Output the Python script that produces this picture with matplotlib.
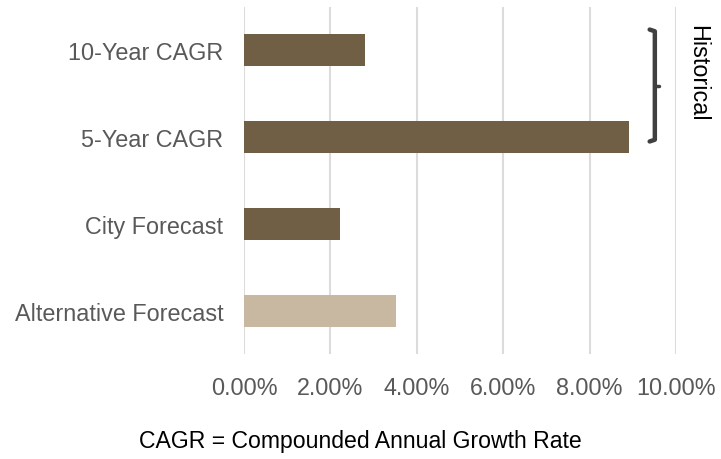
import matplotlib.pyplot as plt
from matplotlib.ticker import PercentFormatter

plt.rcParams['font.family'] = ['Liberation Sans', 'DejaVu Sans']

categories = ['10-Year CAGR', '5-Year CAGR', 'City Forecast', 'Alternative Forecast']
values = [2.80, 8.91, 2.22, 3.51]
colors = ['#705F45', '#705F45', '#705F45', '#C8B8A2']
ticks = [0, 2, 4, 6, 8, 10]

fig = plt.figure(figsize=(7.21, 4.6), dpi=100)
ax = fig.add_axes([0.3384, 0.2283, 0.5992, 0.7543])

y = range(len(categories))
ax.barh(y, values, height=0.37, color=colors, zorder=3)
ax.set_ylim(len(categories) - 0.5, -0.5)
ax.set_xlim(0, 10)
ax.set_yticks(list(y))
ax.set_yticklabels(categories)
ax.set_xticks(ticks)
ax.xaxis.set_major_formatter(PercentFormatter(decimals=2))
ax.grid(axis='x', color='#DCDCDC', linewidth=1.5, zorder=0)
for s in ax.spines.values():
    s.set_visible(False)
ax.tick_params(axis='both', length=0, labelsize=16.8, labelcolor='#595959')
ax.tick_params(axis='x', pad=16)
ax.tick_params(axis='y', pad=15)

# bracket for the historical group
bx = 9.51
top, bot = -0.24, 1.05
mid = (top + bot) / 2
ax.plot([bx - 0.12, bx, bx, bx - 0.12], [top, top + 0.02, bot - 0.02, bot],
        color='#404040', lw=3.2, solid_capstyle='round', solid_joinstyle='round',
        clip_on=False, zorder=4)
ax.plot([bx, bx + 0.1], [mid, mid], color='#404040', lw=2.5,
        solid_capstyle='round', clip_on=False, zorder=4)
ax.text(10.5, -0.5 + 0.2, 'Historical', rotation=-90, ha='center', va='top',
        fontsize=16.8, color='black', clip_on=False)

fig.text(0.5, 0.04, 'CAGR = Compounded Annual Growth Rate', ha='center',
         va='center', fontsize=16.6, color='black')

fig.savefig('out.png', dpi=100)
